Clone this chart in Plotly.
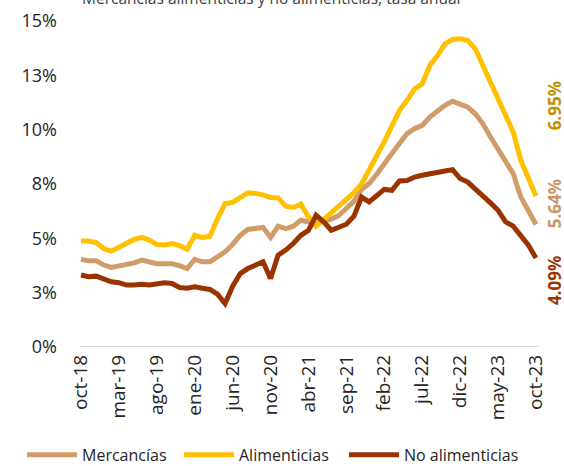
import plotly.graph_objects as go

months = ["oct-18","nov-18","dic-18","ene-19","feb-19","mar-19","abr-19","may-19","jun-19","jul-19","ago-19","sep-19",
          "oct-19","nov-19","dic-19","ene-20","feb-20","mar-20","abr-20","may-20","jun-20","jul-20","ago-20","sep-20",
          "oct-20","nov-20","dic-20","ene-21","feb-21","mar-21","abr-21","may-21","jun-21","jul-21","ago-21","sep-21",
          "oct-21","nov-21","dic-21","ene-22","feb-22","mar-22","abr-22","may-22","jun-22","jul-22","ago-22","sep-22",
          "oct-22","nov-22","dic-22","ene-23","feb-23","mar-23","abr-23","may-23","jun-23","jul-23","ago-23","sep-23",
          "oct-23"]

mercancias = [4.03,3.97,3.97,3.77,3.66,3.72,3.80,3.87,4.00,3.92,3.83,3.83,
              3.83,3.74,3.61,4.03,3.92,3.92,4.18,4.38,4.72,5.14,5.41,5.45,
              5.50,5.04,5.56,5.45,5.56,5.83,5.76,5.68,5.80,5.88,6.05,6.35,
              6.70,7.25,7.52,7.95,8.47,8.90,9.36,9.82,10.05,10.20,10.58,10.86,
              11.12,11.31,11.16,11.04,10.73,10.27,9.66,9.13,8.59,7.98,6.90,6.29,
              5.64]

alimenticias = [4.88,4.88,4.81,4.53,4.41,4.61,4.79,4.95,5.04,4.92,4.72,4.69,
                4.76,4.66,4.50,5.14,5.04,5.10,5.91,6.60,6.65,6.88,7.09,7.06,
                7.00,6.88,6.86,6.48,6.42,6.57,5.99,5.56,5.88,6.15,6.45,6.80,
                7.10,7.50,8.10,8.80,9.45,10.12,10.89,11.35,11.88,12.11,12.95,13.41,
                13.95,14.15,14.18,14.10,13.72,12.95,12.19,11.42,10.58,9.89,8.59,7.75,
                6.95]

no_alimenticias = [3.31,3.23,3.26,3.11,3.00,2.96,2.85,2.85,2.89,2.85,2.92,2.96,
                   2.92,2.74,2.70,2.77,2.70,2.65,2.43,2.00,2.80,3.38,3.61,3.77,
                   3.92,3.15,4.23,4.46,4.76,5.14,5.37,6.06,5.76,5.37,5.48,5.65,
                   6.02,6.90,6.68,6.98,7.25,7.21,7.64,7.66,7.82,7.90,7.98,8.05,
                   8.10,8.16,7.75,7.59,7.29,6.98,6.63,6.29,5.76,5.56,5.14,4.69,
                   4.09]

series_names = ["Mercancías", "Alimenticias", "No alimenticias"]
series_colors = ["#D09C6A", "#FFC000", "#993300"]
label_colors = ["#C8956A", "#BF9000", "#993300"]

tick_months = months[::5]
y_tickvals = [0, 2.5, 5, 7.5, 10, 12.5, 15]
y_ticktext = ["0%", "3%", "5%", "8%", "10%", "13%", "15%"]

FONT = "Open Sans"

W, H = 564, 466
PL, PR, PT, PB = 80, 539, 20.5, 347   # plot area in pixels
PW, PH = PR - PL, PB - PT

legend_ids = ["legend", "legend2", "legend3"]
legend_left_px = [22, 179, 344]

fig = go.Figure()
for name, vals, col, lid in zip(series_names, [mercancias, alimenticias, no_alimenticias],
                                series_colors, legend_ids):
    fig.add_trace(go.Scatter(x=months, y=vals, mode="lines", name=name,
                             line=dict(color=col, width=5), legend=lid))

# end-value labels (rotated)
end_vals = [mercancias[-1], alimenticias[-1], no_alimenticias[-1]]
label_ypix = [204, 106, 281]
for v, col, yp in zip(end_vals, label_colors, label_ypix):
    fig.add_annotation(text=f"<b>{v:.2f}%</b>", xref="paper", yref="paper",
                       x=(554 - PL) / PW, y=(PB - yp) / PH,
                       xanchor="center", yanchor="middle", textangle=-90,
                       showarrow=False, font=dict(family=FONT, size=17, color=col))

# partially visible title at the top
fig.add_annotation(text="Mercancías alimenticias y no alimenticias, tasa anual",
                   xref="paper", yref="paper", x=0.0, y=(PB - 10) / PH,
                   xanchor="left", yanchor="bottom", showarrow=False,
                   font=dict(family=FONT, size=15.5, color="#404040"))

legend_common = dict(orientation="h", yanchor="middle", xanchor="left",
                     y=(PB - 455) / PH, itemwidth=50,
                     font=dict(size=16, family=FONT, color="#262626"),
                     bgcolor="rgba(0,0,0,0)")

fig.update_layout(
    width=W, height=H,
    margin=dict(l=PL, r=W - PR, t=PT, b=H - PB, autoexpand=False),
    paper_bgcolor="white", plot_bgcolor="white",
    font=dict(family=FONT, color="#262626"),
    showlegend=True,
    legend=dict(legend_common, x=(legend_left_px[0] - PL) / PW),
    legend2=dict(legend_common, x=(legend_left_px[1] - PL) / PW),
    legend3=dict(legend_common, x=(legend_left_px[2] - PL) / PW),
    xaxis=dict(type="category", categoryorder="array", categoryarray=months,
               range=[-0.132, 60.4], tickmode="array", tickvals=tick_months, ticktext=tick_months,
               tickangle=-90, tickfont=dict(size=19, family=FONT, color="#262626"),
               ticklabelstandoff=3,
               showgrid=False, showline=False, zeroline=False, ticks="", automargin=False),
    yaxis=dict(range=[0, 15], tickmode="array", tickvals=y_tickvals, ticktext=y_ticktext,
               tickfont=dict(size=18, family=FONT, color="#262626"),
               showgrid=False, zeroline=False, showline=False, ticks="",
               ticklabelstandoff=22, automargin=False),
)
# baseline at 0%
fig.add_hline(y=0, line=dict(color="#D9D9D9", width=2), layer="below")

fig.write_html("out.html", config={"displayModeBar": False},
               post_script="document.body.style.margin='0';document.body.style.overflow='hidden';")
